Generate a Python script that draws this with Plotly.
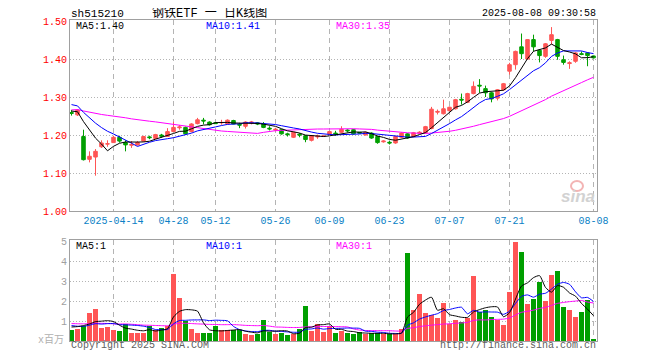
import pandas as pd
import plotly.graph_objects as go

# ---------------- data ----------------
holidays = ["2025-04-04", "2025-05-01", "2025-05-02", "2025-05-05", "2025-06-02"]
dates = [d.strftime("%Y-%m-%d") for d in pd.bdate_range("2025-04-02", "2025-08-08")
         if d.strftime("%Y-%m-%d") not in holidays]

opens = [1.259, 1.253, 1.196, 1.136, 1.142, 1.169, 1.176, 1.180, 1.194, 1.180,
         1.173, 1.174, 1.184, 1.195, 1.191, 1.200, 1.196, 1.209, 1.219, 1.220,
         1.209, 1.230, 1.239, 1.234, 1.232, 1.232, 1.229, 1.238, 1.228, 1.223,
         1.232, 1.232, 1.229, 1.218, 1.213, 1.214, 1.203, 1.194, 1.202, 1.198,
         1.186, 1.195, 1.197, 1.202, 1.205, 1.207, 1.213, 1.214, 1.207, 1.200,
         1.205, 1.196, 1.182, 1.181, 1.179, 1.194, 1.203, 1.196, 1.205, 1.206,
         1.217, 1.260, 1.256, 1.264, 1.269, 1.294, 1.286, 1.309, 1.331, 1.322,
         1.311, 1.297, 1.319, 1.368, 1.385, 1.432, 1.400, 1.451, 1.423, 1.407,
         1.449, 1.451, 1.398, 1.388, 1.394, 1.414, 1.416, 1.408]
highs = [1.266, 1.268, 1.214, 1.157, 1.163, 1.186, 1.186, 1.198, 1.198, 1.186,
         1.184, 1.184, 1.198, 1.198, 1.203, 1.203, 1.218, 1.235, 1.226, 1.222,
         1.231, 1.245, 1.245, 1.236, 1.234, 1.240, 1.241, 1.240, 1.232, 1.236,
         1.237, 1.234, 1.234, 1.223, 1.219, 1.216, 1.206, 1.209, 1.205, 1.200,
         1.199, 1.201, 1.199, 1.211, 1.211, 1.223, 1.215, 1.216, 1.208, 1.209,
         1.207, 1.198, 1.186, 1.184, 1.198, 1.207, 1.205, 1.208, 1.210, 1.224,
         1.274, 1.267, 1.293, 1.275, 1.295, 1.309, 1.311, 1.341, 1.347, 1.330,
         1.313, 1.321, 1.337, 1.390, 1.422, 1.467, 1.452, 1.464, 1.425, 1.442,
         1.484, 1.453, 1.409, 1.394, 1.418, 1.420, 1.418, 1.409]
lows = [1.251, 1.250, 1.133, 1.128, 1.093, 1.166, 1.169, 1.179, 1.180, 1.157,
        1.166, 1.172, 1.182, 1.189, 1.189, 1.193, 1.195, 1.208, 1.214, 1.201,
        1.207, 1.228, 1.228, 1.225, 1.229, 1.227, 1.228, 1.228, 1.218, 1.217,
        1.228, 1.226, 1.218, 1.212, 1.210, 1.201, 1.196, 1.192, 1.194, 1.181,
        1.183, 1.190, 1.195, 1.200, 1.198, 1.205, 1.207, 1.201, 1.204, 1.199,
        1.190, 1.177, 1.180, 1.175, 1.177, 1.192, 1.190, 1.194, 1.203, 1.204,
        1.215, 1.254, 1.254, 1.262, 1.267, 1.280, 1.284, 1.307, 1.311, 1.300,
        1.286, 1.291, 1.317, 1.359, 1.372, 1.400, 1.398, 1.420, 1.391, 1.403,
        1.438, 1.398, 1.385, 1.374, 1.390, 1.410, 1.381, 1.402]
closes = [1.257, 1.266, 1.135, 1.144, 1.157, 1.179, 1.177, 1.194, 1.184, 1.174,
          1.175, 1.180, 1.196, 1.193, 1.201, 1.197, 1.209, 1.220, 1.221, 1.203,
          1.229, 1.240, 1.237, 1.227, 1.230, 1.233, 1.239, 1.229, 1.226, 1.234,
          1.234, 1.229, 1.220, 1.216, 1.215, 1.203, 1.201, 1.207, 1.200, 1.188,
          1.198, 1.197, 1.197, 1.209, 1.203, 1.215, 1.211, 1.203, 1.205, 1.207,
          1.192, 1.180, 1.184, 1.179, 1.196, 1.205, 1.192, 1.206, 1.207, 1.222,
          1.268, 1.262, 1.269, 1.273, 1.293, 1.292, 1.309, 1.328, 1.329, 1.311,
          1.295, 1.319, 1.335, 1.385, 1.420, 1.414, 1.451, 1.432, 1.409, 1.440,
          1.464, 1.407, 1.391, 1.390, 1.416, 1.412, 1.409, 1.403]
# volume, millions
volumes = [0.53, 0.58, 0.75, 1.40, 1.58, 0.65, 0.70, 0.53, 0.48, 0.87,
           0.40, 0.40, 0.40, 0.75, 0.55, 0.63, 0.75, 3.33, 2.15, 0.98,
           0.58, 0.42, 0.42, 0.40, 0.75, 0.53, 0.53, 0.53, 0.53, 0.33,
           0.28, 0.37, 1.03, 0.45, 0.33, 0.40, 0.28, 0.37, 0.58, 1.73,
           0.50, 0.83, 0.45, 0.75, 0.40, 0.48, 0.40, 0.33, 0.45, 0.33,
           0.40, 0.40, 0.33, 0.33, 0.33, 0.58, 4.40, 1.53, 2.33, 1.40,
           1.28, 1.15, 1.90, 0.86, 1.07, 0.95, 1.13, 3.25, 1.45, 1.53,
           1.20, 1.07, 0.82, 2.45, 4.95, 4.45, 1.87, 2.12, 2.95, 2.00,
           3.28, 3.50, 1.70, 1.53, 1.20, 1.45, 2.07, 0.08]

# sessions before the visible window (only feed the moving averages at the left edge)
warmup_closes = [1.240, 1.245, 1.250, 1.255, 1.250, 1.245, 1.240, 1.250, 1.255, 1.260,
                 1.255, 1.250, 1.250, 1.255, 1.265, 1.270, 1.280, 1.285, 1.290, 1.290,
                 1.300, 1.305, 1.295, 1.290, 1.295, 1.275, 1.265, 1.258, 1.260]
warmup_volumes = [0.80, 0.90, 1.10, 0.95, 0.85, 0.90, 1.00, 0.80, 0.75, 0.90,
                  1.00, 1.10, 0.95, 0.85, 0.90, 0.95, 0.90, 1.00, 0.85, 0.95,
                  0.90, 0.80, 0.85, 0.80, 0.85, 0.48, 0.49, 1.00, 1.00]

tick_dates = ["2025-04-14", "2025-04-28", "2025-05-12", "2025-05-26", "2025-06-09",
              "2025-06-23", "2025-07-07", "2025-07-21", "2025-08-08"]
tick_labels = ["2025-04-14", "04-28", "05-12", "05-26", "06-09",
               "06-23", "07-07", "07-21", "08-08"]
price_ticks = [1.00, 1.10, 1.20, 1.30, 1.40, 1.50]
vol_ticks = [1, 2, 3, 4, 5]
price_ma_text = ["MA5:1.40", "MA10:1.41", "MA30:1.35"]
vol_ma_text = ["MA5:1", "MA10:1", "MA30:1"]

# ---------------- helpers ----------------
RED, GREEN = "#ff5555", "#009f00"
C_MA5, C_MA10, C_MA30 = "#000000", "#0000ff", "#ff00ff"
MONO = "Liberation Mono, DejaVu Sans Mono, monospace"


def moving_avg(series, n, warm):
    full = list(warm) + list(series)
    k = len(warm)
    return [sum(full[k + i - n + 1:k + i + 1]) / n for i in range(len(series))]


idx = list(range(len(dates)))
tick_idx = [dates.index(d) for d in tick_dates]
bar_colors = [RED if c >= o else GREEN for o, c in zip(opens, closes)]

# page coordinates of the plot frame (the html body adds an 8px offset)
OFF = 8
L, R, T, B = 70, 597, 20, 341
W, H = 660, 360


def px(x):
    return (x - L) / (R - L)


def py(y):
    return (B - y) / (B - T)


fig = go.Figure()
fig.add_trace(go.Candlestick(
    x=idx, open=opens, high=highs, low=lows, close=closes,
    increasing=dict(line=dict(color=RED, width=1), fillcolor=RED),
    decreasing=dict(line=dict(color=GREEN, width=1), fillcolor=GREEN),
    whiskerwidth=0, hoverinfo="skip", xaxis="x", yaxis="y"))
for n, col in [(30, C_MA30), (10, C_MA10), (5, C_MA5)]:
    fig.add_trace(go.Scatter(x=idx, y=moving_avg(closes, n, warmup_closes), mode="lines",
                             line=dict(color=col, width=1), hoverinfo="skip",
                             xaxis="x", yaxis="y"))

fig.add_trace(go.Bar(x=idx, y=volumes, marker=dict(color=bar_colors, line=dict(width=0)),
                     width=0.84, hoverinfo="skip", xaxis="x2", yaxis="y2"))
for n, col in [(30, C_MA30), (10, C_MA10), (5, C_MA5)]:
    fig.add_trace(go.Scatter(x=idx, y=moving_avg(volumes, n, warmup_volumes), mode="lines",
                             line=dict(color=col, width=1, shape="spline", smoothing=0.6),
                             hoverinfo="skip", xaxis="x2", yaxis="y2"))

xr = [-0.25, 87.58]
grid_common = dict(showgrid=True, gridcolor="#b4b4b4", gridwidth=1, griddash="5px,4px",
                   showline=True, mirror=True, linecolor="#a0a0a0", linewidth=1,
                   zeroline=False, ticks="", range=xr, fixedrange=True,
                   tickvals=tick_idx, automargin=False)
fig.update_layout(
    width=W - OFF, height=H - OFF,
    margin=dict(l=L - OFF, r=W - R, t=T - OFF, b=H - B, autoexpand=False),
    paper_bgcolor="white", plot_bgcolor="white", showlegend=False,
    boxgap=0.16, bargap=0,
    xaxis=dict(domain=[0, 1], anchor="y", ticktext=tick_labels,
               tickfont=dict(family=MONO, size=10, color="#0a7fc6"),
               rangeslider=dict(visible=False), **grid_common),
    xaxis2=dict(domain=[0, 1], anchor="y2", matches="x", showticklabels=False,
                **grid_common),
    yaxis=dict(domain=[py(211), 1], range=[1.0, 1.50263], tickvals=price_ticks,
               ticktext=[f"{v:.2f}" for v in price_ticks],
               tickfont=dict(family=MONO, size=10, color="#ff0000"),
               showgrid=True, gridcolor="#b4b4b4", griddash="1px,2px",
               showline=True, mirror=True, linecolor="#a0a0a0", zeroline=False,
               ticks="", fixedrange=True, automargin=False),
    yaxis2=dict(domain=[0, py(240)], range=[0, 5.05], tickvals=vol_ticks,
                ticktext=[str(v) for v in vol_ticks],
                tickfont=dict(family=MONO, size=10, color="#a0a0a0"),
                showgrid=True, gridcolor="#b4b4b4", griddash="1px,2px",
                showline=True, mirror=True, linecolor="#a0a0a0", zeroline=False,
                ticks="", fixedrange=True, automargin=False),
)


def label(text, x, y, color="#000000", size=10, anchor="left", family=MONO, **kw):
    fig.add_annotation(text=text, x=px(x), y=py(y), xref="paper", yref="paper",
                       xanchor=anchor, yanchor="middle", showarrow=False,
                       font=dict(family=family, size=size, color=color), **kw)


label("sh515210", 69, 13.5, size=11)
label("钢铁ETF 一 日K线图", 150, 14, size=12,
      family="Liberation Mono, Noto Sans CJK SC, monospace")
label("2025-08-08 09:30:58", 598, 13.5, size=10, anchor="right")
for txt, xx, col in zip(price_ma_text, (74, 204, 334), (C_MA5, C_MA10, C_MA30)):
    label(txt, xx, 26, col)
for txt, xx, col in zip(vol_ma_text, (74, 204, 334), (C_MA5, C_MA10, C_MA30)):
    label(txt, xx, 246.5, col)
label("x百万", 66, 340, "#b0b0b0", size=10, anchor="right",
      family="Liberation Mono, Noto Sans CJK SC, monospace")
label("Copyright 2025 SINA.COM", 69, 346, "#606060")
label("http://finance.sina.com.cn", 598, 346, "#606060", anchor="right")
label("<b><i>sina</i></b>", 597, 197, "#d2d2d2", size=17, anchor="right",
      family="Liberation Sans, Arial, sans-serif")
fig.add_shape(type="circle", xref="paper", yref="paper",
              x0=px(571), x1=px(583), y0=py(191), y1=py(181),
              line=dict(color="#f3b4b4", width=2))

fig.write_html("out.html")
